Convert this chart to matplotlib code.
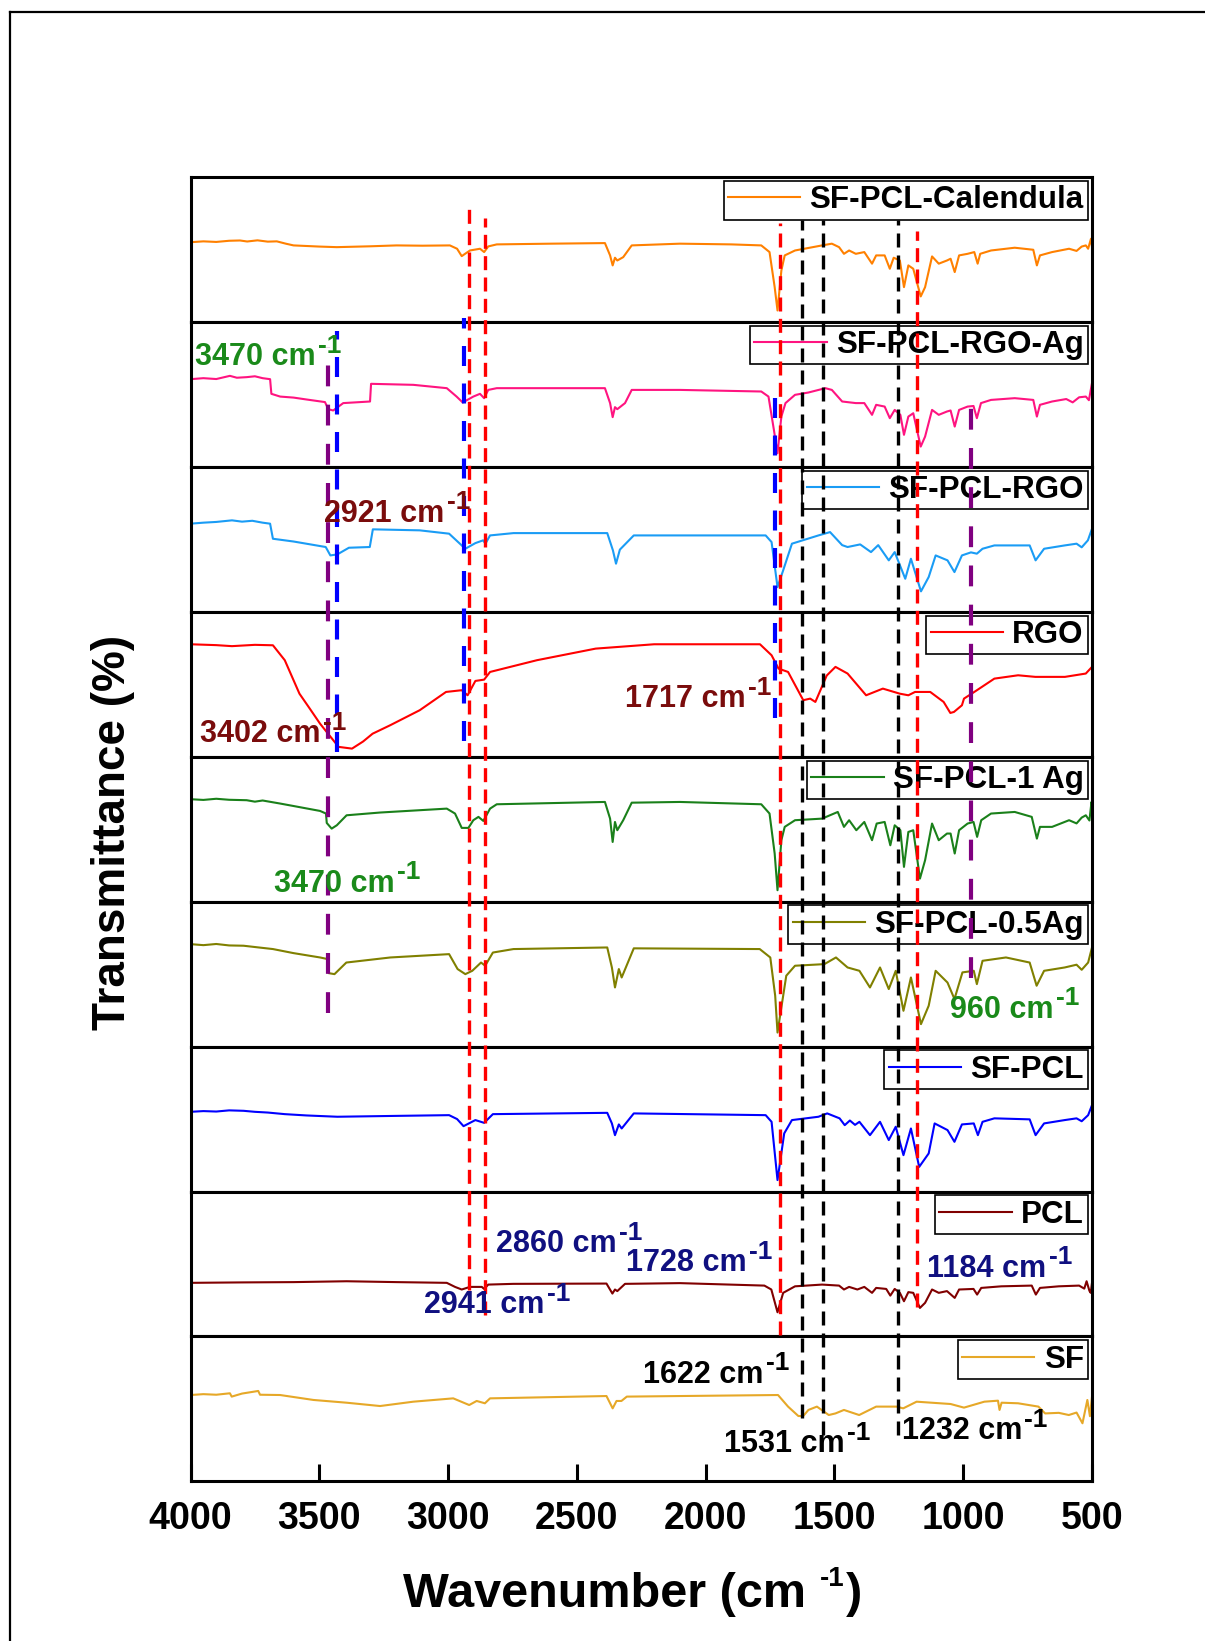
import matplotlib
matplotlib.use("Agg")
import matplotlib.pyplot as plt
from matplotlib.lines import Line2D

plt.rcParams["font.family"] = ["Liberation Sans", "DejaVu Sans"]

# spectra, (wavenumber, transmittance), top panel first
calendula = [(4000, 55.0), (3950, 55.6), (3900, 55.2), (3850, 56.0), (3808, 56.2), (3780, 55.5), (3740, 56.3),
             (3700, 55.4), (3665, 55.6), (3630, 54.0), (3600, 52.8), (3500, 52.0), (3432, 51.6), (3300, 52.2),
             (3200, 52.8), (3100, 52.6), (2993, 52.8), (2965, 50.5), (2947, 45.4), (2930, 47.5), (2915, 49.3),
             (2876, 50.5), (2860, 48.2), (2844, 52.1), (2811, 53.5), (2600, 54.0), (2391, 54.4), (2371, 45.9),
             (2361, 39.0), (2352, 44.3), (2343, 42.4), (2320, 44.7), (2287, 52.8), (2100, 54.0), (1900, 53.5),
             (1784, 52.8), (1752, 48.2), (1732, 24.0), (1721, 7.9), (1706, 35.5), (1693, 45.9), (1653, 49.3),
             (1548, 52.8), (1510, 54.0), (1482, 51.6), (1463, 47.0), (1443, 49.3), (1417, 47.0), (1384, 48.2),
             (1354, 40.2), (1338, 45.9), (1305, 45.9), (1285, 36.7), (1270, 44.3), (1246, 42.4), (1230, 24.0),
             (1213, 39.0), (1194, 36.7), (1165, 17.6), (1148, 24.0), (1121, 45.2), (1095, 40.2), (1063, 42.4),
             (1049, 43.6), (1033, 34.4), (1016, 45.9), (983, 47.0), (957, 48.2), (944, 40.2), (934, 47.0),
             (892, 49.3), (800, 51.2), (728, 49.8), (714, 39.0), (702, 45.9), (655, 48.2), (589, 50.5),
             (560, 49.0), (540, 52.0), (524, 52.8), (515, 50.5), (504, 57.4), (500, 51.6)]

rgo_ag = [(4000, 60.5), (3950, 61.2), (3900, 60.6), (3847, 62.8), (3820, 61.5), (3782, 61.9), (3750, 62.5),
          (3720, 61.2), (3691, 60.5), (3686, 50.4), (3652, 48.5), (3600, 47.8), (3550, 46.5), (3478, 44.7),
          (3465, 39.8), (3446, 38.9), (3407, 44.0), (3350, 44.6), (3303, 45.1), (3299, 57.3), (3135, 56.6),
          (3005, 54.3), (2967, 48.5), (2943, 44.4), (2902, 48.5), (2876, 50.4), (2860, 47.4), (2844, 53.1),
          (2811, 54.3), (2391, 54.3), (2371, 44.0), (2361, 34.3), (2352, 41.2), (2343, 39.8), (2313, 44.0),
          (2287, 53.1), (2100, 53.1), (1784, 52.0), (1756, 48.5), (1735, 25.5), (1721, 9.4), (1706, 34.7),
          (1690, 44.0), (1653, 49.7), (1601, 51.3), (1535, 54.3), (1510, 53.1), (1470, 45.1), (1417, 44.0),
          (1384, 44.0), (1354, 35.9), (1338, 42.8), (1305, 41.6), (1285, 33.6), (1266, 39.3), (1244, 35.9),
          (1230, 22.1), (1213, 34.7), (1194, 37.0), (1165, 14.0), (1148, 20.9), (1121, 39.3), (1095, 35.9),
          (1063, 38.2), (1049, 38.9), (1033, 27.8), (1016, 39.3), (983, 41.6), (960, 42.0), (947, 33.6),
          (931, 44.0), (892, 46.2), (800, 47.4), (728, 46.2), (714, 34.7), (702, 42.8), (655, 45.1),
          (600, 46.8), (575, 44.5), (550, 48.0), (524, 48.5), (512, 46.0), (500, 57.8)]

pcl_rgo = [(4000, 60.8), (3950, 61.5), (3900, 62.0), (3839, 63.1), (3800, 62.2), (3760, 62.8), (3720, 61.5),
           (3691, 60.8), (3680, 50.4), (3600, 48.5), (3475, 44.7), (3457, 38.9), (3430, 39.6), (3385, 44.2),
           (3304, 44.7), (3292, 56.9), (3110, 56.2), (2996, 53.9), (2933, 43.5), (2894, 47.4), (2864, 49.3),
           (2855, 47.0), (2837, 52.7), (2746, 54.3), (2382, 54.3), (2360, 42.4), (2348, 33.2), (2333, 42.9),
           (2279, 52.7), (1767, 52.7), (1744, 48.1), (1721, 17.0), (1699, 28.6), (1665, 47.0), (1562, 52.7),
           (1517, 55.0), (1470, 46.0), (1449, 44.7), (1400, 46.5), (1358, 41.2), (1330, 46.0), (1289, 35.5),
           (1266, 41.2), (1225, 22.8), (1203, 36.6), (1164, 14.1), (1134, 24.0), (1107, 38.9), (1061, 35.5),
           (1034, 27.4), (1005, 38.9), (970, 41.0), (947, 40.1), (925, 43.5), (879, 45.8), (742, 45.8),
           (719, 35.5), (686, 43.5), (606, 45.8), (560, 47.0), (540, 44.5), (516, 49.3), (500, 57.3)]

rgo = [(4000, 77.6), (3900, 77.0), (3839, 76.3), (3750, 77.2), (3680, 76.9), (3634, 66.6), (3577, 43.5),
       (3540, 34.0), (3497, 22.8), (3425, 6.8), (3373, 5.6), (3330, 10.5), (3293, 15.9), (3225, 21.7),
       (3110, 32.1), (3008, 44.7), (2947, 45.9), (2924, 42.4), (2894, 52.3), (2860, 53.2), (2837, 58.5),
       (2655, 66.6), (2427, 74.6), (2200, 77.6), (1789, 77.6), (1744, 70.0), (1717, 60.8), (1680, 58.5),
       (1621, 39.0), (1594, 40.1), (1574, 37.8), (1530, 56.0), (1496, 62.0), (1449, 57.4), (1377, 42.4),
       (1312, 47.0), (1246, 43.5), (1213, 42.4), (1187, 44.7), (1128, 44.7), (1076, 37.8), (1050, 30.2),
       (1036, 30.9), (1005, 35.5), (997, 40.1), (957, 44.7), (879, 53.9), (787, 56.2), (720, 55.1),
       (605, 55.1), (524, 57.4), (500, 62.0)]

ag_1 = [(4000, 70.7), (3950, 70.2), (3900, 71.0), (3850, 70.3), (3782, 70.0), (3750, 69.0), (3720, 69.8),
        (3652, 67.7), (3600, 66.0), (3497, 62.6), (3474, 60.8), (3471, 54.3), (3452, 50.4), (3432, 52.7),
        (3394, 59.6), (3264, 61.5), (3005, 64.2), (2973, 60.8), (2947, 50.9), (2921, 50.9), (2902, 56.2),
        (2882, 58.5), (2863, 55.7), (2837, 64.2), (2811, 67.2), (2391, 68.8), (2371, 57.3), (2361, 41.2),
        (2352, 55.0), (2343, 49.3), (2320, 56.2), (2287, 68.3), (2100, 68.8), (1784, 67.2), (1752, 60.8),
        (1732, 33.2), (1721, 7.9), (1706, 42.4), (1693, 51.6), (1653, 56.2), (1548, 57.3), (1487, 61.9),
        (1463, 51.6), (1443, 56.2), (1415, 49.3), (1384, 55.0), (1354, 42.4), (1336, 53.9), (1305, 55.0),
        (1283, 38.9), (1266, 52.7), (1244, 49.3), (1230, 24.0), (1213, 48.1), (1194, 49.3), (1168, 15.9),
        (1148, 28.6), (1121, 53.9), (1095, 42.4), (1063, 47.0), (1049, 47.0), (1033, 33.2), (1016, 49.3),
        (983, 53.9), (960, 55.0), (946, 44.7), (930, 56.2), (892, 60.8), (800, 61.9), (734, 58.5),
        (714, 43.5), (702, 51.6), (655, 51.6), (589, 56.2), (560, 54.0), (540, 58.0), (524, 59.6),
        (510, 56.0), (502, 68.8), (500, 62.0)]

ag_05 = [(4000, 70.7), (3950, 70.0), (3900, 70.8), (3850, 69.8), (3794, 69.6), (3740, 68.5), (3680, 67.3),
         (3600, 64.5), (3497, 61.5), (3468, 60.4), (3464, 50.7), (3441, 50.0), (3395, 58.0), (3224, 61.5),
         (2996, 63.8), (2963, 53.5), (2933, 50.0), (2906, 52.3), (2872, 58.0), (2856, 55.8), (2826, 64.9),
         (2746, 67.3), (2382, 68.4), (2364, 54.6), (2352, 40.8), (2337, 53.5), (2326, 47.7), (2279, 67.8),
         (1790, 67.3), (1749, 61.5), (1730, 35.1), (1721, 9.7), (1687, 48.9), (1653, 55.8), (1539, 56.9),
         (1494, 61.5), (1449, 54.6), (1403, 52.3), (1362, 40.8), (1323, 54.6), (1289, 39.7), (1262, 52.3),
         (1232, 24.7), (1203, 47.7), (1164, 15.5), (1134, 28.2), (1107, 52.3), (1061, 44.2), (1034, 32.8),
         (1003, 51.2), (959, 52.3), (947, 43.1), (925, 59.2), (834, 61.5), (742, 58.0), (715, 42.0),
         (686, 52.3), (606, 54.6), (560, 56.5), (540, 53.0), (515, 58.0), (500, 68.4)]

sf_pcl = [(4000, 55.0), (3950, 55.5), (3900, 55.2), (3850, 56.0), (3794, 55.7), (3750, 55.0), (3700, 54.5),
          (3634, 53.4), (3550, 52.5), (3430, 51.6), (3200, 52.2), (2996, 52.7), (2965, 50.0), (2940, 45.1),
          (2894, 49.3), (2860, 47.4), (2826, 53.4), (2382, 54.3), (2364, 47.0), (2352, 38.9), (2337, 46.3),
          (2326, 43.5), (2279, 53.9), (1767, 52.7), (1744, 48.1), (1721, 7.9), (1695, 40.1), (1665, 49.3),
          (1562, 51.6), (1528, 53.9), (1480, 50.5), (1460, 45.8), (1440, 49.0), (1420, 46.0), (1403, 48.1),
          (1362, 38.9), (1323, 48.1), (1289, 35.5), (1262, 44.7), (1232, 25.1), (1203, 43.5), (1171, 17.0),
          (1134, 26.3), (1111, 47.0), (1061, 42.4), (1034, 34.3), (1005, 46.3), (959, 47.0), (943, 38.9),
          (925, 48.1), (879, 50.5), (742, 49.8), (719, 38.9), (686, 47.0), (606, 49.3), (560, 50.5),
          (540, 48.5), (515, 52.7), (500, 59.6)]

pcl = [(4000, 37.0), (3800, 37.3), (3600, 37.5), (3394, 38.1), (3200, 37.5), (3005, 37.0), (2973, 34.2),
       (2947, 32.4), (2915, 34.2), (2869, 34.2), (2860, 32.8), (2844, 35.8), (2747, 36.3), (2385, 36.5),
       (2362, 29.6), (2352, 32.4), (2343, 31.3), (2313, 36.3), (2100, 36.8), (1772, 35.1), (1745, 32.4),
       (1721, 16.7), (1699, 30.1), (1653, 34.6), (1548, 35.8), (1482, 35.1), (1463, 32.4), (1443, 34.2),
       (1411, 32.4), (1384, 34.2), (1354, 30.1), (1338, 33.5), (1299, 32.8), (1283, 28.2), (1266, 32.8),
       (1246, 30.1), (1230, 24.3), (1213, 30.6), (1194, 30.1), (1168, 19.7), (1148, 23.2), (1121, 32.4),
       (1095, 30.1), (1063, 31.3), (1033, 26.6), (1016, 32.4), (960, 32.8), (946, 28.9), (930, 33.5),
       (852, 34.6), (734, 35.1), (718, 28.9), (702, 33.5), (629, 34.6), (550, 35.1), (530, 33.0),
       (521, 38.1), (510, 31.5), (505, 30.1), (500, 37.0)]

sf = [(4000, 59.6), (3950, 60.2), (3900, 59.8), (3847, 60.8), (3840, 58.5), (3800, 60.6), (3737, 62.4),
      (3730, 59.8), (3652, 59.6), (3523, 56.2), (3394, 54.3), (3264, 52.0), (3135, 55.0), (2980, 57.3),
      (2918, 52.7), (2889, 55.5), (2857, 53.9), (2837, 57.3), (2385, 58.9), (2361, 50.4), (2346, 55.5),
      (2327, 55.5), (2306, 58.5), (2100, 58.9), (1719, 59.6), (1680, 51.6), (1640, 45.1), (1621, 45.1),
      (1601, 49.3), (1568, 51.6), (1522, 45.8), (1496, 46.9), (1463, 49.3), (1404, 45.8), (1338, 51.6),
      (1259, 51.6), (1233, 50.4), (1181, 55.0), (1049, 53.4), (997, 50.9), (918, 55.0), (865, 55.7),
      (859, 49.3), (851, 54.3), (787, 53.9), (708, 51.6), (682, 46.9), (629, 47.3), (590, 45.8),
      (560, 47.5), (537, 40.1), (518, 56.2), (508, 45.0), (500, 58.5)]

spectra = [calendula, rgo_ag, pcl_rgo, rgo, ag_1, ag_05, sf_pcl, pcl, sf]
names = ["SF-PCL-Calendula", "SF-PCL-RGO-Ag", "SF-PCL-RGO", "RGO", "SF-PCL-1 Ag",
         "SF-PCL-0.5Ag", "SF-PCL", "PCL", "SF"]
colors = ["#ff8000", "#ff1480", "#1a9cf5", "#ff0000", "#1a801a",
          "#808000", "#0000ff", "#800000", "#e6a828"]

ticks = [4000, 3500, 3000, 2500, 2000, 1500, 1000, 500]

# guide lines: wavenumber, top and bottom in panel units (0 = bottom, 9 = top)
red_lines = [(2920, 8.79, 1.32), (2855, 8.72, 1.15), (1711, 8.68, 1.01), (1180, 8.63, 1.20)]
black_lines = [(1625, 8.70, 0.44), (1545, 8.70, 0.32), (1255, 8.70, 0.32)]
blue_lines = [(3432, 7.94, 5.03), (2940, 8.03, 5.11), (1732, 7.55, 5.27)]
purple_lines = [(3467, 7.83, 3.23), (970, 7.51, 3.47)]

# band labels: number, wavenumber of text start, baseline in panel units, colour
band_labels = [("3470", 3983, 7.70, "#1a8a1a"), ("2921", 3480, 6.62, "#7a0c0c"),
               ("3402", 3963, 5.10, "#7a0c0c"), ("1717", 2313, 5.34, "#7a0c0c"),
               ("3470", 3676, 4.07, "#1a8a1a"), ("960", 1050, 3.20, "#1a8a1a"),
               ("2860", 2814, 1.58, "#101080"), ("1728", 2309, 1.45, "#101080"),
               ("2941", 3093, 1.16, "#101080"), ("1184", 1139, 1.41, "#101080"),
               ("1622", 2243, 0.68, "black"), ("1531", 1927, 0.20, "black"),
               ("1232", 1238, 0.29, "black")]

W, H = 1205, 1641
fig = plt.figure(figsize=(W / 100, H / 100), dpi=100)

left, right = 190.5 / W, 1092 / W
top, bottom = 1 - 177 / H, 1 - 1481.4 / H
ph = (top - bottom) / 9

for i in range(9):
    ax = fig.add_axes([left, top - (i + 1) * ph, right - left, ph])
    wn, tr = zip(*spectra[i])
    ax.plot(wn, tr, color=colors[i], lw=1.5, label=names[i])
    ax.set_xlim(4000, 500)
    ax.set_ylim(0, 100)
    ax.set_yticks([])
    for s in ax.spines.values():
        s.set_linewidth(2.2)
    leg = ax.legend(loc="upper right", prop={"weight": "bold", "size": 22.6}, frameon=True,
                    fancybox=False, edgecolor="black", framealpha=1, borderpad=0.14,
                    borderaxespad=0.12, handlelength=2.3, handletextpad=0.3)
    leg.get_frame().set_linewidth(1.2)
    if i < 8:
        ax.set_xticks([])
    else:
        ax.set_xticks(ticks, labels=[str(t) for t in ticks], fontsize=27, fontweight="bold")
        ax.tick_params(axis="x", direction="in", length=12, width=2.2, pad=14)

# overlay for guide lines and band labels
ov = fig.add_axes([left, bottom, right - left, top - bottom], zorder=10)
ov.set_xlim(4000, 500)
ov.set_ylim(0, 9)
ov.axis("off")
ov.patch.set_alpha(0)

for wn, y0, y1 in red_lines:
    ov.plot([wn, wn], [y1, y0], color="#ff0000", lw=2.4, dashes=(4.2, 2.2))
for wn, y0, y1 in black_lines:
    ov.plot([wn, wn], [y1, y0], color="black", lw=2.4, dashes=(4.2, 2.4))
for wn, y0, y1 in blue_lines:
    ov.plot([wn, wn], [y1, y0], color="#0000ff", lw=3.0, dashes=(4.8, 4.2))
for wn, y0, y1 in purple_lines:
    ov.plot([wn, wn], [y1, y0], color="#800080", lw=3.0, dashes=(5.0, 4.4))

for num, wn, yb, c in band_labels:
    t = ov.text(wn, yb, num + " cm", fontsize=22, fontweight="bold", color=c, va="baseline")
    ov.annotate("-1", xy=(1, 0), xycoords=t, xytext=(1.5, 10.6), textcoords="offset points",
                fontsize=19, fontweight="bold", color=c, va="bottom")

# axis titles
fig.text(113 / W, 1 - 832 / H, "Transmittance (%)", rotation=90, ha="center", va="center",
         fontsize=33, fontweight="bold")
t1 = fig.text(403 / W, 1 - 1606.7 / H, "Wavenumber (cm", fontsize=35, fontweight="bold", va="baseline")
t2 = plt.annotate("-1", xy=(1, 0), xycoords=t1, xytext=(10, 18.0), textcoords="offset points",
                  fontsize=20, fontweight="bold", va="bottom")
plt.annotate(")", xy=(1, 0), xycoords=(t2, t1), xytext=(1, 0), textcoords="offset points",
             fontsize=35, fontweight="bold", va="bottom")

# outer frame
fig.add_artist(Line2D([10 / W, 10 / W], [0, 1 - 12 / H], transform=fig.transFigure, color="black", lw=1.6))
fig.add_artist(Line2D([10 / W, 1], [1 - 12 / H, 1 - 12 / H], transform=fig.transFigure, color="black", lw=1.6))

fig.savefig("out.png", dpi=100)
